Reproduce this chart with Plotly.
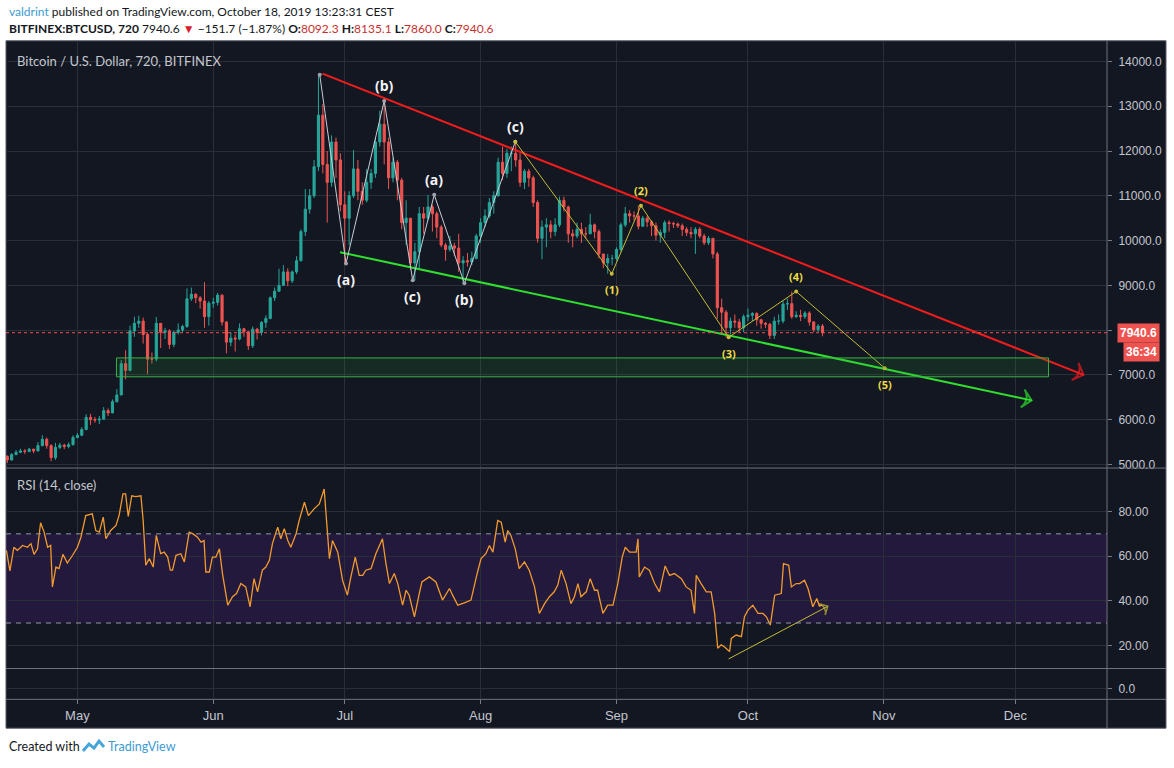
import pandas as pd
import plotly.graph_objects as go

W, H = 1174, 768

# ---------------- data ----------------
candle_start = "2019-04-15"   # first daily candle (BITFINEX:BTCUSD)
first_open = 5180

close = [
    5100, 5220, 5270, 5300, 5290, 5340, 5300, 5420, 5560, 5420, 5150, 5380, 5430, 5400, 5440, 5600,
    5650, 5780, 6050, 6000, 5990, 6010, 6200, 6150, 6400, 6550, 7250, 7100, 7980, 8150, 8200, 7900,
    7350, 7350, 8150, 7950, 7980, 7680, 7950, 8000, 8080, 8700, 8800, 8720, 8650, 8300, 8600,
    8620, 8780, 8180, 7730, 7820, 7800, 8030, 7960, 7650, 8020, 7950, 8170, 8260, 8720, 8870, 9000,
    9300, 9100, 9300, 9550, 10200, 10700, 11000, 11650, 12800, 11700, 11300, 12200, 11800, 10800,
    10500, 11000, 11600, 11100, 10900, 11300, 11500, 12200, 12600, 12200, 11400, 11750, 11350, 10400,
    10500, 9500, 9750, 10600, 10500, 10750, 10600, 10300, 9900, 9800, 9880, 9830, 9500, 9550, 9520,
    9600, 10100,
    10400, 10550, 10850, 11000, 11750, 11500, 11950, 11950, 11800, 11300, 11550, 11400, 10850, 10050,
    10300, 10350, 10200, 10350, 10900, 10750, 10150, 10100, 10250, 10150, 10150, 10350, 10200, 9700,
    9500, 9600, 9600,
    9800, 10350, 10600, 10550, 10550, 10320, 10500, 10420, 10330, 10120, 10180, 10400, 10380, 10370,
    10330, 10250, 10180, 10150, 10250, 10100, 9950, 10050, 9700, 8500, 8400, 8050, 8200, 8180, 8050, 8300,
    8330, 8370, 8230, 8150, 8130, 7880, 8200, 8200, 8580, 8590, 8300, 8330, 8300, 8380, 8180, 8010,
    8090, 7940.6,
]
high = [
    5200, 5250, 5320, 5350, 5340, 5370, 5350, 5500, 5650, 5600, 5450, 5480, 5480, 5460, 5490, 5650,
    5700, 5830, 6120, 6130, 6060, 6080, 6280, 6250, 6450, 6680, 7330, 7550, 8100, 8300, 8320, 8280,
    7950, 7500, 8290, 8150, 8050, 8020, 7980, 8150, 8120, 8930, 8950, 8820, 8760, 9070, 8650,
    8720, 8830, 8800, 8200, 7950, 7900, 8150, 8050, 7980, 8080, 8050, 8200, 8330, 8750, 8950, 9370,
    9450, 9380, 9330, 9650, 10250, 11150, 11150, 11800, 13700, 13050, 12000, 12350, 12300, 11950,
    11100, 11100, 12020, 11800, 11300, 11600, 11600, 12300, 12900, 13120, 12300, 11850, 11800, 11400,
    10900, 10500, 9950, 10750, 10750, 11020, 10800, 10650, 10350, 9950, 10100, 9950, 10150, 9650, 9720,
    9750, 10150,
    10500, 10700, 10950, 11100, 11850, 12100, 12050, 12100, 12200, 11950, 11600, 11600, 11450, 10900,
    10450, 10500, 10450, 10500, 10980, 10980, 10780, 10250, 10400, 10400, 10300, 10600, 10380, 10250,
    9700, 9700, 9680,
    9850, 10400, 10750, 10680, 10650, 10780, 10550, 10550, 10450, 10400, 10250, 10450, 10450, 10420,
    10400, 10380, 10300, 10300, 10300, 10300, 10150, 10100, 10050, 9750, 8700, 8450, 8280, 8350, 8250, 8350,
    8480, 8400, 8400, 8250, 8180, 8160, 8300, 8350, 8650, 8700, 8860, 8420, 8450, 8420, 8420, 8200,
    8130, 8135.1,
]
low = [
    5030, 5080, 5200, 5250, 5230, 5270, 5250, 5290, 5400, 5350, 5070, 5100, 5340, 5340, 5360, 5420,
    5580, 5630, 5760, 5880, 5930, 5900, 6000, 6080, 6140, 6380, 6550, 6900, 7080, 7850, 8050, 7700,
    7020, 7250, 7300, 7600, 7800, 7580, 7620, 7900, 7950, 8050, 8650, 8600, 8480, 8050, 8100,
    8500, 8550, 8100, 7480, 7640, 7520, 7770, 7850, 7560, 7600, 7790, 7880, 8050, 8240, 8650, 8850,
    8980, 8980, 9050, 9250, 9530, 10100, 10600, 10950, 11550, 11500, 10400, 11200, 11400, 10650,
    9490, 9900, 10950, 10900, 10800, 10850, 11150, 11400, 12100, 11700, 11150, 11300, 10900, 10250,
    9900, 9350, 9110, 9350, 10150, 10450, 10200, 10050, 9850, 9550, 9750, 9650, 9300, 9050, 9420,
    9450, 9580,
    9950, 10300, 10500, 10600, 10980, 11350, 11400, 11550, 11650, 11200, 11150, 11200, 10750, 9950,
    9580, 9850, 10050, 10100, 10300, 10650, 9950, 9850, 10050, 9950, 10050, 10150, 10050, 9600,
    9380, 9260, 9450,
    9550, 9750, 10300, 10400, 10450, 10250, 10300, 10300, 10100, 10000, 9950, 10050, 10200, 10280,
    10280, 10100, 10100, 10050, 9700, 10050, 9900, 9900, 9600, 8250, 7950, 7840, 7900, 8050, 7950, 7950,
    8200, 8200, 8100, 8030, 8050, 7800, 7800, 8120, 8150, 8450, 8250, 8270, 8200, 8250, 8100, 7950,
    7950, 7860,
]

# RSI(14, close): days after rsi_origin, value
rsi_origin = "2019-05-01"
rsi_day = [
    -16.2, -15.4, -14.5, -13.7, -12.5, -11.4, -10.6, -9.9, -9.1, -8.4, -7.6, -6.8, -6.1, -5.7, -4.9,
    -4.2, -3.3, -2.3, -1.1, 0, 0.8, 1.9, 3.4, 4.2, 5.0, 5.9, 6.5, 7.6, 8.8, 9.5, 10.4, 11.0, 11.6,
    12.4, 13.3, 14.5, 15.0, 15.6, 16.4, 17.3, 18.0, 19.0, 19.8, 20.6, 21.2, 21.7, 22.5, 23.6, 24.4,
    25.5, 26.3, 27.4, 28.2, 28.9, 29.3, 30.1, 30.8, 31.6, 32.4, 33.1, 34.3, 35.4, 36.3, 37.3, 38.4,
    39.4, 40.3, 41.1, 42.2, 43.0, 43.8, 44.5, 45.7, 46.4, 47.2, 48.0, 48.7, 49.9, 50.6, 51.8, 52.7,
    54.0, 55.2, 56.3, 57.1, 57.5, 58.2, 59.4, 60.5, 61.6, 62.4, 63.4, 64.3, 65.1, 65.8, 67.0, 68.1,
    69.6, 70.4, 71.2, 72.3, 73.1, 74.2, 75.0, 75.7, 76.9, 78.0, 78.6, 80.3, 81.8, 83.3, 84.9, 85.6,
    86.8, 88.3, 89.8, 91.3, 92.1, 93.2, 94.0, 94.8, 95.9, 96.7, 97.6, 98.2, 98.9, 99.9, 100.8, 102.0,
    103.1, 104.3, 105.4, 106.6, 107.7, 108.8, 109.6, 110.4, 111.5, 112.6, 113.4, 114.2, 114.9, 116.1,
    117.0, 118.0, 118.7, 119.9, 121.0, 122.2, 123.3, 124.3, 125.0, 126.0, 127.5, 127.9, 128.2, 129.4,
    130.5, 131.7, 132.8, 134.1, 135.1, 136.2, 137.8, 138.9, 140.0, 140.8, 141.2, 142.3, 143.5, 144.6,
    145.4, 146.1, 146.9, 147.6, 148.8, 149.2, 150.3, 151.5, 152.2, 153.0, 154.1, 155.3, 156.4, 157.2,
    158.1, 159.1, 160.6, 161.1, 162.3, 162.9, 164.0, 164.8, 165.9, 166.7, 167.8, 168.7, 169.3, 169.9,
]
rsi_val = [
    62.6, 53.4, 64.0, 62.6, 64.8, 64.0, 65.6, 60.8, 63.3, 75.0, 70.8, 64.0, 64.8, 46.2, 55.1,
    54.4, 60.8, 56.9, 60.4, 64.0, 68.5, 78.2, 79.0, 71.5, 70.8, 77.5, 67.8, 71.5, 73.8, 78.2, 87.9, 87.9, 77.8,
    87.1, 86.7, 87.1, 76.0, 55.9, 58.9, 55.1, 69.3, 61.1, 61.8, 59.6, 53.7, 53.7, 60.4, 61.1, 57.4,
    70.8, 70.1, 68.5, 66.3, 67.0, 52.9, 52.9, 59.6, 59.6, 63.3, 52.2, 38.0, 41.8, 43.2, 47.7, 46.2,
    37.3, 49.9, 44.0, 53.7, 55.1, 58.1, 65.6, 73.0, 67.8, 72.3, 67.0, 64.0, 70.1, 76.0, 84.2, 78.2,
    81.2, 83.4, 90.1, 69.3, 58.9, 67.0, 61.8, 49.2, 42.5, 50.7, 59.6, 51.4, 51.4, 53.7, 54.4, 61.1,
    67.8, 56.6, 47.7, 52.2, 47.7, 38.0, 44.7, 42.5, 32.8, 43.2, 48.4, 50.7, 48.4, 40.3, 45.5, 42.5,
    38.0, 39.0, 40.3, 52.9, 58.9, 61.1, 64.8, 61.8, 76.0, 75.2, 66.3, 71.5, 69.3, 63.3, 54.4, 57.4,
    53.7, 46.2, 34.3, 38.7, 41.8, 44.0, 47.0, 53.7, 47.7, 38.7, 41.8, 47.7, 41.8, 44.0,
    49.9, 44.7, 44.7, 34.3, 38.0, 38.0, 47.7, 59.6, 64.0, 61.8, 61.8, 67.8, 50.7, 55.1,
    53.7, 47.7, 44.0, 55.6, 51.4, 52.2, 49.9, 46.2, 44.7, 34.3, 51.4, 47.7, 44.0, 44.0,
    34.3, 18.7, 20.2, 19.4, 17.2, 23.1, 24.6, 23.9, 32.8, 35.8, 38.0, 34.3, 34.3, 32.8,
    29.1, 42.5, 43.2, 56.6, 55.9, 46.2, 47.7, 47.7, 49.2, 45.5, 37.3, 41.0, 37.6, 38.0,
]

price_ticks = [5000, 6000, 7000, 8000, 9000, 10000, 11000, 12000, 13000, 14000]
price_hidden = [8000]          # label covered by the last-price tag in the reference
rsi_ticks = [20, 40, 60, 80]
rsi_bands = [30, 70]
month_ticks = ["2019-05-01", "2019-06-01", "2019-07-01", "2019-08-01",
               "2019-09-01", "2019-10-01", "2019-11-01", "2019-12-01"]
month_labels = ["May", "Jun", "Jul", "Aug", "Sep", "Oct", "Nov", "Dec"]
x_range = ["2019-04-14 17:00", "2019-12-21 22:00"]

last_price = 7940.6
countdown = "36:34"

# corrective structure (white)
abc_time = ["2019-06-25 07:00", "2019-07-01 07:00", "2019-07-10 00:00", "2019-07-16 12:00",
            "2019-07-21 10:00", "2019-07-28 07:00", "2019-08-08 22:00"]
abc_price = [13704, 9489, 13118, 9111, 11022, 9044, 12207]
abc_text = ["", "(a)", "(b)", "(c)", "(a)", "(b)", "(c)"]

# impulse count (yellow)
wave_time = ["2019-08-08 22:00", "2019-08-30 22:00", "2019-09-06 14:00", "2019-09-26 14:00",
             "2019-10-12 00:00", "2019-11-01 05:00"]
wave_price = [12207, 9259, 10778, 7838, 8860, 7149]
wave_text = ["", "(1)", "(2)", "(3)", "(4)", "(5)"]

resist_time = ["2019-06-25 22:00", "2019-12-16 14:00"]
resist_price = [13727, 7000]
support_time = ["2019-06-29 22:00", "2019-12-04 17:00"]
support_price = [9740, 6429]
zone_time = ["2019-05-09 22:00", "2019-12-08 14:00"]
zone_price = [6956, 7378]
rsi_trend_time = ["2019-09-26 14:00", "2019-10-19 05:00"]
rsi_trend_val = [13.9, 37.5]

# ---------------- styling helpers ----------------
BG = "#131722"
GRID = "#2a2e39"
SEP = "#70737e"
TXT = "#c3c6ce"
UP, DOWN = "#26a69a", "#ef5350"
FONT = "Liberation Sans, Arial, sans-serif"
HFONT = "Lato, Liberation Sans, Arial, sans-serif"


def px(x):
    return x / W


def py(y):
    return 1 - y / H


dates = pd.date_range(candle_start, periods=len(close), freq="D")
opens = [first_open] + close[:-1]
rsi_dates = pd.to_datetime(rsi_origin) + pd.to_timedelta(rsi_day, unit="D")

fig = go.Figure()

fig.add_trace(go.Candlestick(
    x=dates, open=opens, high=high, low=low, close=close,
    increasing=dict(line=dict(color=UP, width=1), fillcolor=UP),
    decreasing=dict(line=dict(color=DOWN, width=1), fillcolor=DOWN),
    whiskerwidth=0, hoverinfo="skip", showlegend=False, xaxis="x", yaxis="y",
))

# trend lines with open arrow heads
for tx, ty, col in [(resist_time, resist_price, "#f21c1c"), (support_time, support_price, "#2fe02f")]:
    fig.add_trace(go.Scatter(
        x=tx, y=ty, mode="lines+markers", xaxis="x", yaxis="y", showlegend=False, hoverinfo="skip",
        line=dict(color=col, width=2),
        marker=dict(symbol=["circle", "arrow-wide-open"], size=[0, 13], angleref="previous",
                    color=col, line=dict(color=col, width=[0, 2])),
    ))

# wave zigzags
fig.add_trace(go.Scatter(
    x=abc_time, y=abc_price, mode="lines+markers", xaxis="x", yaxis="y", showlegend=False,
    hoverinfo="skip", line=dict(color="#c9ccd4", width=1),
    marker=dict(size=4, color="#9ea1aa"),
))
fig.add_trace(go.Scatter(
    x=wave_time, y=wave_price, mode="lines+markers", xaxis="x", yaxis="y", showlegend=False,
    hoverinfo="skip", line=dict(color="#c4bd35", width=1),
    marker=dict(size=4, color="#c4bd35"),
))

# RSI
fig.add_trace(go.Scatter(
    x=rsi_dates, y=rsi_val, mode="lines", xaxis="x2", yaxis="y2", showlegend=False,
    hoverinfo="skip", line=dict(color="#f29a2e", width=1.3),
))
fig.add_trace(go.Scatter(
    x=rsi_trend_time, y=rsi_trend_val, mode="lines+markers", xaxis="x2", yaxis="y2",
    showlegend=False, hoverinfo="skip", line=dict(color="#c4bd35", width=1),
    marker=dict(symbol=["circle", "arrow-wide-open"], size=[0, 9], angleref="previous",
                color="#c4bd35", line=dict(color="#c4bd35", width=[0, 1.5])),
))
# invisible trace so the third (empty) pane exists
fig.add_trace(go.Scatter(x=[dates[0]], y=[0], mode="markers", marker=dict(opacity=0),
                         xaxis="x3", yaxis="y3", showlegend=False, hoverinfo="skip"))

annotations = []
shapes = []


# wave labels
def add_labels(times, prices, texts, color, size):
    for i, (t, p, s) in enumerate(zip(times, prices, texts)):
        if not s:
            continue
        up = p > prices[i - 1]
        annotations.append(dict(
            x=t, y=p, xref="x", yref="y", text="<b>" + s + "</b>", showarrow=False,
            yshift=15 if up else -16, font=dict(color=color, size=size, family="Open Sans, Arial"),
        ))


add_labels(abc_time, abc_price, abc_text, "#f2f3f5", 14)
add_labels(wave_time, wave_price, wave_text, "#ecdc45", 11)

# panel background and separators
shapes.append(dict(type="rect", xref="paper", yref="paper", x0=px(6), x1=px(1166), y0=py(732),
                   y1=py(41), fillcolor=BG, line=dict(color="#5a5d68", width=1), layer="below"))
for yy in [470.5, 672, 703]:
    shapes.append(dict(type="line", xref="paper", yref="paper", x0=px(6), x1=px(1166),
                       y0=py(yy), y1=py(yy), line=dict(color=SEP, width=1), layer="above"))
shapes.append(dict(type="line", xref="paper", yref="paper", x0=px(1107), x1=px(1107),
                   y0=py(732), y1=py(41), line=dict(color=SEP, width=1), layer="above"))

# RSI band
shapes.append(dict(type="rect", xref="x2 domain", yref="y2", x0=0, x1=1,
                   y0=rsi_bands[0], y1=rsi_bands[1], fillcolor="rgba(120,40,200,0.16)",
                   line=dict(width=0), layer="below"))
for b in rsi_bands:
    shapes.append(dict(type="line", xref="x2 domain", yref="y2", x0=0, x1=1, y0=b, y1=b,
                       line=dict(color="#9598a1", width=1, dash="5px,5px")))

# support zone
shapes.append(dict(type="rect", xref="x", yref="y", x0=zone_time[0], x1=zone_time[1],
                   y0=zone_price[0], y1=zone_price[1], fillcolor="rgba(46,160,60,0.15)",
                   line=dict(color="#3cb043", width=1), layer="above"))

# last price dotted line
shapes.append(dict(type="line", xref="x domain", yref="y", x0=0, x1=1, y0=last_price,
                   y1=last_price, line=dict(color="#ef5350", width=1, dash="dot")))

# price label boxes on the axis
annotations.append(dict(x=px(1160), y=last_price, xref="paper", yref="y", xanchor="right",
                        yanchor="middle", text="<b>%.1f</b>" % last_price, showarrow=False,
                        bgcolor="#ef5350", font=dict(color="white", size=12, family=FONT),
                        borderpad=2))
annotations.append(dict(x=px(1160), y=last_price, xref="paper", yref="y", xanchor="right",
                        yanchor="middle", text="<b>" + countdown + "</b>", showarrow=False,
                        bgcolor="#ef5350", font=dict(color="white", size=12, family=FONT),
                        borderpad=2, yshift=-19))


def paper_text(x, y, text, color, size, family=HFONT):
    annotations.append(dict(x=px(x), y=py(y), xref="paper", yref="paper", xanchor="left",
                            yanchor="middle", showarrow=False, text=text,
                            font=dict(color=color, size=size, family=family)))


# pane titles
paper_text(15, 61, "Bitcoin / U.S. Dollar, 720, BITFINEX", TXT, 13)
paper_text(15, 488, "RSI (14, close)", TXT, 13)

# header
RED = "#c8302f"
line1 = ("<span style='color:#3d9bd1'>valdrint</span> published on TradingView.com, "
         "October 18, 2019 13:23:31 CEST")
line2 = ("<b>BITFINEX:BTCUSD, 720</b> 7940.6 <span style='color:#d8202a'>▼</span> "
         "−151.7 (−1.87%) "
         "<b>O:</b><span style='color:RED'>8092.3</span> <b>H:</b><span style='color:RED'>8135.1</span> "
         "<b>L:</b><span style='color:RED'>7860.0</span> <b>C:</b><span style='color:RED'>7940.6</span>"
         ).replace("RED", RED)
paper_text(7, 12, line1, "#131722", 12)
paper_text(7, 29, line2, "#131722", 12)

# footer
paper_text(7, 750, "Created with", "#131722", 12.5)
paper_text(106, 750, "TradingView", "#3d9bd1", 12.5)
logo = [(83, 755), (89, 748), (94, 752), (99, 745), (104, 751)]
path = "M " + " L ".join("%.5f,%.5f" % (px(a), py(b)) for a, b in logo)
shapes.append(dict(type="path", xref="paper", yref="paper", path=path,
                   line=dict(color="#45a5d8", width=3)))

xdom = [px(6), px(1107)]
common_x = dict(type="date", range=x_range, domain=xdom, tickvals=month_ticks,
                ticktext=month_labels, showgrid=True, gridcolor=GRID, gridwidth=1,
                zeroline=False, showline=False)

fig.update_layout(
    width=W, height=H, margin=dict(l=0, r=0, t=0, b=0),
    paper_bgcolor="white", plot_bgcolor="rgba(0,0,0,0)",
    font=dict(family=FONT, color=TXT, size=12),
    showlegend=False, hovermode=False,
    xaxis=dict(common_x, anchor="y", showticklabels=False, rangeslider=dict(visible=False)),
    xaxis2=dict(common_x, anchor="y2", showticklabels=False),
    xaxis3=dict(common_x, anchor="y3", showticklabels=True, ticks="outside", ticklen=4,
                tickcolor="#787b86", tickfont=dict(color=TXT, size=13, family=FONT)),
    yaxis=dict(domain=[py(470), py(41)], anchor="x", side="right", range=[4929, 14462],
               tickvals=price_ticks,
               ticktext=["" if v in price_hidden else "%.1f" % v for v in price_ticks],
               ticks="outside", ticklen=4, tickcolor="#787b86", showgrid=True, gridcolor=GRID,
               zeroline=False, tickfont=dict(color=TXT, size=12, family=FONT), ticklabelstandoff=4),
    yaxis2=dict(domain=[py(672), py(471)], anchor="x2", side="right", range=[9.6, 99.3],
                tickvals=rsi_ticks, ticktext=["%.2f" % v for v in rsi_ticks],
                ticks="outside", ticklen=4, tickcolor="#787b86", showgrid=True, gridcolor=GRID,
                zeroline=False, tickfont=dict(color=TXT, size=12, family=FONT), ticklabelstandoff=4),
    yaxis3=dict(domain=[py(703), py(672)], anchor="x3", side="right", range=[-11, 20],
                tickvals=[0], ticktext=["0.0"], ticks="outside", ticklen=4, tickcolor="#787b86",
                showgrid=True, gridcolor=GRID, zeroline=False,
                tickfont=dict(color=TXT, size=12, family=FONT), ticklabelstandoff=4),
    annotations=annotations, shapes=shapes,
)

fig.write_html("out.html", config={"displayModeBar": False},
               post_script="document.body.style.margin='0px';")
